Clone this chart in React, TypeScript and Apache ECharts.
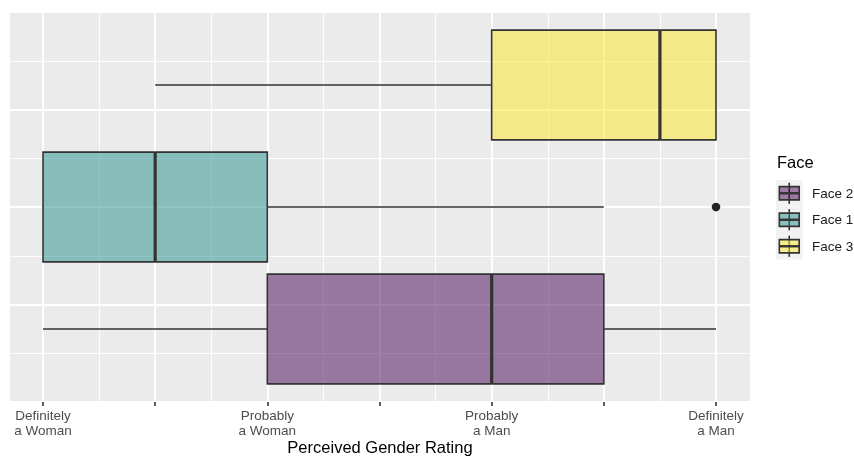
import React, { useEffect, useRef } from "react";
import * as echarts from "echarts";

// ---- data ----
const categories = ["Face 2", "Face 1", "Face 3"]; // bottom to top
const whiskerLow = [1, 1, 2];
const q1 = [3, 1, 5];
const medians = [5, 2, 6.5];
const q3 = [6, 3, 7];
const whiskerHigh = [7, 6, 7];
const outlierValues = [7];
const outlierFaces = ["Face 1"];
const faceColors = ["#440154", "#21908C", "#FDE725"];
const tickValues = [1, 2, 3, 4, 5, 6, 7];
const tickLabels = [
  "Definitely\na Woman",
  "",
  "Probably\na Woman",
  "",
  "Probably\na Man",
  "",
  "Definitely\na Man",
];
const xTitle = "Perceived Gender Rating";
const legendTitle = "Face";

const FONT = "'Liberation Sans', Arial, Helvetica, sans-serif";
const EDGE = "#333333";

function withAlpha(hex: string, a: number) {
  const r = parseInt(hex.slice(1, 3), 16);
  const g = parseInt(hex.slice(3, 5), 16);
  const b = parseInt(hex.slice(5, 7), 16);
  return `rgba(${r},${g},${b},${a})`;
}

export default function App() {
  const ref = useRef<HTMLDivElement>(null);
  useEffect(() => {
    if (!ref.current) return;
    const chart = echarts.init(ref.current, undefined, { renderer: "svg" });

    const boxData = categories.map((_, i) => [
      i,
      whiskerLow[i],
      q1[i],
      medians[i],
      q3[i],
      whiskerHigh[i],
    ]);

    const keyX = 776;
    const keyY0 = 180;
    const keySize = 26.5;
    const legendEls: any[] = [
      {
        type: "text",
        x: 777,
        y: 162,
        style: {
          text: legendTitle,
          font: `16.5px ${FONT}`,
          fill: "#000",
          verticalAlign: "middle",
          align: "left",
        },
      },
    ];
    categories.forEach((c, i) => {
      const y = keyY0 + i * keySize;
      legendEls.push({
        type: "rect",
        shape: { x: keyX, y, width: keySize, height: keySize },
        style: { fill: "#F2F2F2" },
      });
      const cx = keyX + keySize / 2;
      legendEls.push({
        type: "line",
        shape: { x1: cx, y1: y + keySize * 0.1, x2: cx, y2: y + keySize * 0.9 },
        style: { stroke: EDGE, lineWidth: 1.6 },
      });
      legendEls.push({
        type: "rect",
        shape: {
          x: keyX + keySize * 0.125,
          y: y + keySize * 0.25,
          width: keySize * 0.75,
          height: keySize * 0.5,
        },
        style: {
          fill: withAlpha(faceColors[i], 0.5),
          stroke: EDGE,
          lineWidth: 1.6,
        },
      });
      legendEls.push({
        type: "line",
        shape: {
          x1: keyX + keySize * 0.125,
          y1: y + keySize / 2,
          x2: keyX + keySize * 0.875,
          y2: y + keySize / 2,
        },
        style: { stroke: EDGE, lineWidth: 2.4 },
      });
      legendEls.push({
        type: "text",
        x: 812,
        y: y + keySize / 2,
        style: {
          text: c,
          font: `13.5px ${FONT}`,
          fill: "#1a1a1a",
          verticalAlign: "middle",
          align: "left",
        },
      });
    });
    legendEls.push({
      type: "text",
      x: 380,
      y: 447,
      style: {
        text: xTitle,
        font: `16.5px ${FONT}`,
        fill: "#000",
        verticalAlign: "middle",
        align: "center",
      },
    });

    const option: any = {
      animation: false,
      textStyle: { fontFamily: FONT },
      grid: [
        {
          left: 10,
          top: 12,
          width: 740,
          height: 390,
          show: true,
          backgroundColor: "#EBEBEB",
          borderWidth: 0,
        },
        { left: 43, top: 12, width: 673, height: 390 },
        { left: 43, top: 24, width: 673, height: 366 },
      ],
      xAxis: [
        { gridIndex: 0, type: "value", min: 0.7, max: 7.3, show: false },
        {
          gridIndex: 1,
          type: "value",
          min: 1,
          max: 7,
          interval: 1,
          axisLine: { show: false },
          axisTick: {
            show: true,
            length: 4,
            lineStyle: { color: EDGE, width: 1.6 },
          },
          axisLabel: {
            show: true,
            margin: 6,
            color: "#4D4D4D",
            fontSize: 13.5,
            lineHeight: 15,
            fontFamily: FONT,
            align: "center",
            formatter: (v: number) => {
              const idx = tickValues.indexOf(Math.round(v));
              return idx >= 0 ? tickLabels[idx] : "";
            },
          },
          splitLine: { show: true, lineStyle: { color: "#FFFFFF", width: 1.8 } },
          minorTick: { show: false, splitNumber: 2 },
          minorSplitLine: {
            show: true,
            lineStyle: { color: "#FFFFFF", width: 0.9 },
          },
        },
        { gridIndex: 2, type: "value", min: 1, max: 7, show: false },
      ],
      yAxis: [
        {
          gridIndex: 0,
          type: "value",
          min: -2,
          max: 2,
          interval: 1,
          axisLine: { show: false },
          axisTick: { show: false },
          axisLabel: { show: false },
          splitLine: { show: true, lineStyle: { color: "#FFFFFF", width: 1.8 } },
          minorTick: { show: false, splitNumber: 2 },
          minorSplitLine: {
            show: true,
            lineStyle: { color: "#FFFFFF", width: 0.9 },
          },
        },
        { gridIndex: 1, type: "value", min: 0, max: 1, show: false },
        {
          gridIndex: 2,
          type: "category",
          data: categories,
          show: false,
          boundaryGap: true,
        },
      ],
      series: [
        {
          type: "custom",
          xAxisIndex: 2,
          yAxisIndex: 2,
          encode: { x: [1, 2, 3, 4, 5], y: 0 },
          data: boxData,
          z: 5,
          renderItem: (params: any, api: any) => {
            const i = api.value(0);
            const lo = api.coord([api.value(1), i]);
            const b1 = api.coord([api.value(2), i]);
            const md = api.coord([api.value(3), i]);
            const b3 = api.coord([api.value(4), i]);
            const hi = api.coord([api.value(5), i]);
            const band = api.size([0, 1])[1];
            const half = (band * 0.9) / 2;
            const yc = lo[1];
            const children: any[] = [];
            if (b1[0] - lo[0] > 0.5) {
              children.push({
                type: "line",
                shape: { x1: lo[0], y1: yc, x2: b1[0], y2: yc },
                style: { stroke: EDGE, lineWidth: 1.6 },
              });
            }
            if (hi[0] - b3[0] > 0.5) {
              children.push({
                type: "line",
                shape: { x1: b3[0], y1: yc, x2: hi[0], y2: yc },
                style: { stroke: EDGE, lineWidth: 1.6 },
              });
            }
            children.push({
              type: "rect",
              shape: {
                x: b1[0],
                y: yc - half,
                width: b3[0] - b1[0],
                height: half * 2,
              },
              style: {
                fill: withAlpha(faceColors[i], 0.5),
                stroke: EDGE,
                lineWidth: 1.6,
              },
            });
            children.push({
              type: "line",
              shape: { x1: md[0], y1: yc - half, x2: md[0], y2: yc + half },
              style: { stroke: EDGE, lineWidth: 3.2 },
            });
            return { type: "group", children };
          },
        },
        {
          type: "scatter",
          xAxisIndex: 2,
          yAxisIndex: 2,
          z: 6,
          symbol: "circle",
          symbolSize: 8.5,
          itemStyle: { color: "#222222", opacity: 1 },
          data: outlierValues.map((v, k) => [v, outlierFaces[k]]),
        },
      ],
      graphic: legendEls,
    };
    chart.setOption(option);
    return () => chart.dispose();
  }, []);

  return (
    <div
      ref={ref}
      style={{ position: "fixed", left: 0, top: 0, width: 854, height: 456 }}
    />
  );
}
